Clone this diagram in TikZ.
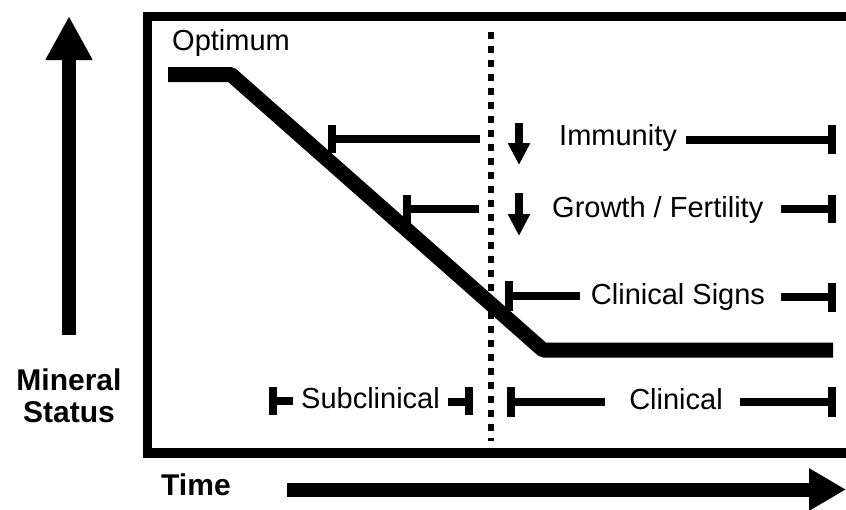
\documentclass[tikz,border=0pt]{standalone}
\usepackage{fontspec}
\setmainfont{Liberation Sans}
\usetikzlibrary{arrows.meta}
\begin{document}
\begin{tikzpicture}[x=1pt,y=-1pt,
  frame/.style={line width=9.5pt},
  curve/.style={line width=15pt, line join=bevel},
  bar/.style={line width=8pt},
  tickmark/.style={line width=8pt},
  dotline/.style={line width=6pt, dash pattern=on 7pt off 7pt},
  downarrow/.style={line width=8pt, -{Triangle[length=22pt,width=21pt]}},
  lbl/.style={font=\fontsize{29}{30}\selectfont, inner sep=0pt},
  boldlbl/.style={font=\fontsize{30}{30}\selectfont\bfseries, inner sep=0pt, align=center}]
\useasboundingbox (0,0) rectangle (846,509);
\begin{scope}
\clip (0,0) rectangle (846,509);
\draw[frame] (147.5,16.5) rectangle (870,453);
\end{scope}
% axes
\coordinate (ybot) at (69,335);
\coordinate (ytop) at (69,16);
\draw[line width=14pt, -{Triangle[length=44pt,width=44pt]}] (ybot) -- (ytop);
\coordinate (xl) at (287,489.5);
\coordinate (xr) at (846,489.5);
\draw[line width=14pt, -{Triangle[length=37pt,width=40pt]}] (xl) -- (xr);
\node[boldlbl, anchor=base] (mineral) at (69,390) {Mineral};
\node[boldlbl, anchor=base] (status) at (69,422) {Status};
\node[boldlbl, anchor=base west] (time) at (161,495) {Time};
% curve
\coordinate (c0) at (168,74.5);
\coordinate (c1) at (231,74.5);
\coordinate (c2) at (543,350);
\coordinate (c3) at (833,350);
\draw[curve] (c0) -- (c1) -- (c2) -- (c3);
\node[lbl, anchor=base west] (opt) at (172,50) {Optimum};
% dotted line
\coordinate (d0) at (491,32);
\coordinate (d1) at (491,441);
\draw[dotline] (d0) -- (d1);
% Immunity
\node[lbl, anchor=base west] (imm) at (559,145) {Immunity};
\draw[tickmark] (332,125) -- (332,153);
\draw[bar] (332,139) -- (480,139);
\draw[downarrow] (519,123) -- (519,165);
\draw[bar] (686,140) -- (832,140);
\draw[tickmark] (832,125) -- (832,154);
% Growth / Fertility
\node[lbl, anchor=base west] (gro) at (552,217) {Growth / Fertility};
\draw[tickmark] (407,195) -- (407,223);
\draw[bar] (407,209) -- (479,209);
\draw[downarrow] (519,193) -- (519,236);
\draw[bar] (781,208.5) -- (832,208.5);
\draw[tickmark] (832,195) -- (832,223);
% Clinical Signs
\node[lbl, anchor=base] (csig) at (678,304) {Clinical Signs};
\draw[tickmark] (509,281) -- (509,311);
\draw[bar] (509,296) -- (580,296);
\draw[bar] (781,297) -- (832,297);
\draw[tickmark] (832,283) -- (832,312);
% Subclinical
\node[lbl, anchor=base west] (sub) at (301,408) {Subclinical};
\draw[tickmark] (273,387) -- (273,415);
\draw[bar] (273,401) -- (293,401);
\draw[bar] (448,402) -- (469,402);
\draw[tickmark] (469,387) -- (469,415);
% Clinical
\node[lbl, anchor=base] (clin) at (676,409) {Clinical};
\draw[tickmark] (511,387) -- (511,417);
\draw[bar] (511,402) -- (605,402);
\draw[bar] (740,402) -- (832,402);
\draw[tickmark] (832,387) -- (832,417);
\end{tikzpicture}
\end{document}
